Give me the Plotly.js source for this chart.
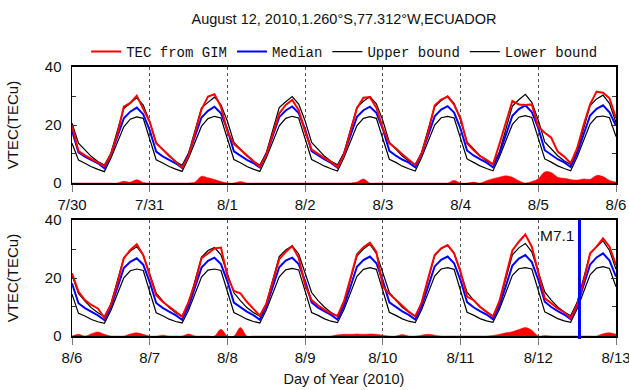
<!DOCTYPE html>
<html>
<head>
<meta charset="utf-8">
<script src="https://cdn.plot.ly/plotly-3.0.1.min.js"></script>
<style>html,body{margin:0;padding:0;background:#fff;}#chart{width:629px;height:390px;}</style>
</head>
<body>
<div id="chart"></div>
<script>
// ---- data (2-hourly samples, days since panel start) ----
const topDays = ["7/30","7/31","8/1","8/2","8/3","8/4","8/5","8/6"];
const botDays = ["8/6","8/7","8/8","8/9","8/10","8/11","8/12","8/13"];
const eqDay = 6.53;           // M7.1 earthquake, days since 8/6 (bottom panel)
const eqLabel = "M7.1";

// top panel: 7/30 - 8/6
const tec1 = [
 19.8,11.0,9.5,8.2,7.0,5.8,9.8,16.8,26.3,27.6,30.1,25.8,
 21.1,13.7,11.6,9.7,7.6,5.3,9.3,17.1,25.4,29.8,30.6,26.3,
 17.7,13.5,11.5,9.5,7.5,5.6,9.7,16.6,24.0,26.9,28.6,25.2,
 17.7,11.5,9.9,8.6,7.3,5.4,9.8,17.5,25.8,29.4,29.6,26.0,
 18.9,13.7,12.0,9.9,8.0,6.2,10.2,17.7,26.7,28.8,29.8,27.0,
 22.3,13.7,11.4,9.3,8.0,6.4,13.4,20.5,28.3,27.1,26.9,27.1,
 19.4,17.3,15.6,10.8,9.1,6.8,12.0,20.0,27.1,31.5,31.1,29.2,
 22.3];
const med1 = [
 18.0,10.6,9.1,7.9,6.8,5.1,9.7,16.0,22.3,24.6,26.0,23.7,
 18.2,10.8,9.2,8.0,6.8,5.2,9.8,16.2,22.6,24.9,26.3,24.0,
 18.4,10.9,9.3,8.0,6.9,5.3,9.9,16.3,22.7,25.0,26.4,24.1,
 18.5,11.0,9.4,8.1,6.9,5.3,10.0,16.4,22.8,25.1,26.3,24.2,
 18.6,11.1,9.4,8.1,7.0,5.4,10.1,16.5,23.0,25.3,26.5,24.3,
 18.7,11.2,9.5,8.2,7.0,5.4,10.1,16.6,23.2,25.5,26.8,24.5,
 18.9,11.3,9.6,8.2,7.1,5.5,10.2,16.8,23.3,25.6,26.8,24.4,
 19.7];
const up1 = [
 20.6,13.7,11.4,9.1,7.4,6.2,10.2,17.7,25.7,27.5,29.4,26.9,
 21.1,13.9,11.5,9.2,7.4,6.1,10.3,17.9,25.9,27.8,29.6,27.0,
 21.3,14.0,11.6,9.3,7.5,6.2,10.4,18.0,26.0,28.0,29.8,27.2,
 21.4,14.0,11.6,9.2,7.5,6.3,10.5,18.2,26.1,28.2,29.8,27.3,
 21.5,14.1,11.7,9.3,7.6,6.3,10.6,18.3,26.3,28.4,30.0,27.5,
 21.6,14.2,11.8,9.4,7.6,6.4,10.7,18.5,26.5,28.7,30.6,27.8,
 21.7,14.2,11.8,9.4,7.7,6.4,10.8,18.6,26.7,29.0,30.3,27.4,
 20.8];
const low1 = [
 13.7,7.9,6.8,5.6,4.7,3.9,8.5,13.7,19.4,22.0,22.8,22.3,
 14.8,8.0,6.9,5.7,4.8,4.0,8.6,13.9,19.6,22.2,23.0,22.4,
 15.0,8.1,7.0,5.7,4.8,4.0,8.7,14.0,19.7,22.3,23.0,22.4,
 15.1,8.1,7.0,5.8,4.9,4.1,8.8,14.1,19.8,22.3,22.9,22.3,
 15.2,8.2,7.1,5.8,4.9,4.1,8.9,14.2,20.0,22.5,23.0,22.4,
 15.3,8.3,7.1,5.9,5.0,4.2,9.0,14.4,20.2,22.7,23.2,22.6,
 15.4,8.3,7.2,5.9,5.0,4.2,9.0,14.5,20.3,22.8,23.1,22.5,
 16.0];
const anom1 = [
 0,0,0,0,0,0,0,0,0.6,0.3,1.1,0.2,
 0,0,0,0,0,0,0,0.3,2.3,1.8,1.2,0.5,
 0,0,0.5,0,0,0,0,0,0,0,0,0,
 0,0,0,0,0,0,0,0,0.3,1.4,0,0,
 0,0,0,0,0,0,0,0,0,0,0,0.9,
 0,0,0.3,0,0.8,1.5,2.0,2.5,2.0,0.8,0,0.5,
 1.5,3.8,3.6,2.0,1.6,1.2,1.0,1.4,1.3,2.6,2.2,0.9,
 0.3];

// bottom panel: 8/6 - 8/13
const tec2 = [
 21.6,15.3,12.4,10.7,9.5,6.3,10.7,18.2,26.8,29.7,31.6,27.9,
 21.0,14.1,11.8,10.1,8.6,6.7,11.8,18.2,26.8,28.5,30.2,30.5,
 20.5,15.5,14.7,11.8,9.5,7.0,11.0,19.0,26.5,29.0,31.0,27.0,
 17.5,12.4,10.5,9.0,7.8,6.9,12.0,19.9,28.2,30.6,32.2,29.0,
 17.0,14.6,12.5,10.4,8.4,6.7,11.6,19.9,27.9,30.2,31.4,28.5,
 22.2,13.6,12.4,10.1,8.4,6.7,12.0,21.0,29.5,32.5,35.0,30.8,
 21.6,13.0,11.3,9.5,8.2,6.1,10.7,18.7,28.5,30.8,33.7,30.8,
 24.5];
const med2 = [
 18.2,11.3,9.6,8.3,7.1,5.5,10.0,16.6,23.4,25.6,26.8,24.6,
 18.6,11.4,9.7,8.4,7.2,5.6,10.1,16.8,23.6,25.9,27.0,24.8,
 18.8,11.5,9.8,8.4,7.2,5.6,10.2,16.9,23.7,26.0,27.0,24.8,
 18.9,11.6,9.8,8.5,7.3,5.7,10.3,17.0,23.9,26.2,27.4,25.1,
 19.0,11.6,9.9,8.5,7.3,5.7,10.3,17.1,24.0,26.3,27.4,25.1,
 19.2,11.7,9.9,8.6,7.4,5.8,10.4,17.3,24.3,26.7,27.9,25.5,
 19.4,11.8,10.0,8.6,7.4,5.8,10.5,17.5,24.6,27.1,28.5,26.0,
 20.5];
const up2 = [
 21.0,14.7,12.0,9.7,8.0,6.7,11.0,18.8,27.0,29.3,30.8,27.9,
 21.6,14.8,12.1,9.8,8.0,6.7,11.1,19.0,27.2,29.5,30.5,28.0,
 21.8,14.9,12.2,9.8,8.1,6.8,11.2,19.1,27.4,29.7,31.1,28.3,
 21.9,15.0,12.2,9.9,8.1,6.8,11.3,19.3,27.6,30.0,31.6,28.5,
 22.0,15.0,12.3,9.9,8.2,6.9,11.4,19.4,27.7,30.1,31.2,28.5,
 22.1,15.1,12.4,10.0,8.2,6.9,11.5,19.6,28.0,30.4,31.9,29.0,
 22.3,15.2,12.4,10.0,8.3,7.0,11.6,19.8,28.3,30.8,32.8,29.5,
 23.0];
const low2 = [
 14.4,7.8,6.9,5.7,4.9,4.4,8.8,14.3,20.1,22.5,23.1,22.6,
 15.5,8.0,7.0,5.8,5.0,4.5,8.9,14.5,20.3,22.7,23.1,22.6,
 15.6,8.1,7.0,5.8,5.0,4.5,9.0,14.6,20.4,22.8,23.3,22.8,
 15.7,8.1,7.1,5.9,5.1,4.6,9.1,14.8,20.6,23.0,23.6,23.0,
 15.8,8.2,7.1,5.9,5.1,4.6,9.1,14.9,20.7,23.1,23.6,23.0,
 15.9,8.2,7.2,6.0,5.2,4.7,9.2,15.0,20.9,23.2,23.6,23.1,
 16.1,8.3,7.2,6.0,5.2,4.7,9.3,15.2,21.1,23.4,23.9,23.3,
 17.0];
const anom2 = [
 0,0.6,0,0.8,1.4,0.6,0,0,0,0.7,1.1,0.6,
 0,0,0.3,0,0,0,0.7,0,0,0,0,2.3,
 0,0,2.9,0,0,0,0,0,0,0,0,0,
 0,0,0,0,0,0.4,0.6,0.6,0.7,0.6,0.7,0.6,
 0.3,0,0,0.5,0,0,0.3,0.6,0.3,0,0,0,
 0,0,0,0,0,0.2,0.6,1.1,1.5,2.2,2.9,2.0,
 0,0.2,0,0,0,0,0,0,0,0,0.8,1.1,
 0.6];

// sample times (2-hourly) in days from panel start
const t = tec1.map((_, k) => k / 12);

const SANS = "Liberation Sans, Arial, sans-serif";
const MONO = "Liberation Mono, Courier New, monospace";

function panel(xa, ya, tec, med, up, low, anom, legend) {
  return [
    {x: t, y: anom, xaxis: xa, yaxis: ya, type: 'scatter', mode: 'lines',
     line: {color: 'red', width: 0.5, shape: 'spline', smoothing: 1},
     fill: 'tozeroy', fillcolor: 'red', showlegend: false, hoverinfo: 'skip'},
    {x: t, y: low, xaxis: xa, yaxis: ya, type: 'scatter', mode: 'lines',
     line: {color: 'black', width: 1.2}, name: 'Lower bound', legendrank: 4, showlegend: legend},
    {x: t, y: up, xaxis: xa, yaxis: ya, type: 'scatter', mode: 'lines',
     line: {color: 'black', width: 1.2}, name: 'Upper bound', legendrank: 3, showlegend: legend},
    {x: t, y: med, xaxis: xa, yaxis: ya, type: 'scatter', mode: 'lines',
     line: {color: '#0000ff', width: 2}, name: 'Median', legendrank: 2, showlegend: legend},
    {x: t, y: tec, xaxis: xa, yaxis: ya, type: 'scatter', mode: 'lines',
     line: {color: '#ff0000', width: 2}, name: 'TEC from GIM', legendrank: 1, showlegend: legend}
  ];
}

const data = [
  ...panel('x', 'y', tec1, med1, up1, low1, anom1, true),
  ...panel('x2', 'y2', tec2, med2, up2, low2, anom2, false)
];

const tickFont = {family: SANS, size: 15, color: '#111'};
function xax(labels, anchor, title) {
  const a = {
    anchor: anchor, domain: [0, 1], range: [0, 7],
    tickvals: labels.map((_, i) => i), ticktext: labels,
    ticks: 'outside', ticklen: 7, tickwidth: 1, tickcolor: '#777',
    ticklabeloverflow: 'allow',
    showline: true, linecolor: 'black', linewidth: 2, mirror: true,
    showgrid: true, gridcolor: '#555', griddash: 'dot', gridwidth: 1,
    zeroline: false, tickfont: tickFont, fixedrange: true
  };
  if (title) a.title = {text: title, font: {family: SANS, size: 14.5, color: '#111'}, standoff: 9};
  return a;
}
function yax(domain, anchor) {
  return {
    anchor: anchor, domain: domain, range: [0, 40],
    tickvals: [0, 20, 40], ticks: 'inside', ticklen: 5, tickcolor: '#333',
    ticklabelstandoff: 6,
    minor: {tickvals: [10, 30], ticks: 'inside', ticklen: 4, tickcolor: '#333', showgrid: false},
    showline: true, linecolor: 'black', linewidth: 1.5, mirror: 'ticks',
    showgrid: false, zeroline: false, tickfont: tickFont, fixedrange: true,
    title: {text: 'VTEC(TECu)', font: {family: SANS, size: 15, color: '#111'}, standoff: 22}
  };
}

const layout = {
  width: 629, height: 390,
  margin: {l: 72, r: 13, t: 67, b: 54},
  paper_bgcolor: 'white', plot_bgcolor: 'white',
  title: {text: 'August 12, 2010,1.260°S,77.312°W,ECUADOR',
          font: {family: SANS, size: 14.5, color: '#111'},
          x: 0.5, xref: 'paper', xanchor: 'center', y: 1 - 19 / 390, yref: 'container', yanchor: 'middle'},
  xaxis: xax(topDays, 'y'),
  yaxis: yax([0.5688, 1], 'x'),
  xaxis2: xax(botDays, 'y2', 'Day of Year (2010)'),
  yaxis2: yax([0, 0.4312], 'x2'),
  showlegend: true,
  legend: {orientation: 'h', x: 0.026, xanchor: 'left', y: 1.056, yanchor: 'middle',
           font: {family: MONO, size: 14, color: '#111'}, bgcolor: 'rgba(0,0,0,0)',
           traceorder: 'normal', itemwidth: 30},
  shapes: [
    {type: 'line', xref: 'x2', yref: 'paper', x0: eqDay, x1: eqDay, y0: -0.011, y1: 0.4312,
     line: {color: '#0000ff', width: 3}}
  ],
  annotations: [
    {text: eqLabel, xref: 'x2', yref: 'y2', x: eqDay, y: 34.8, xanchor: 'right', yanchor: 'middle',
     xshift: -3, showarrow: false, font: {family: SANS, size: 15.5, color: '#111'}}
  ]
};

Plotly.newPlot('chart', data, layout, {displayModeBar: false, staticPlot: true});
</script>
</body>
</html>
